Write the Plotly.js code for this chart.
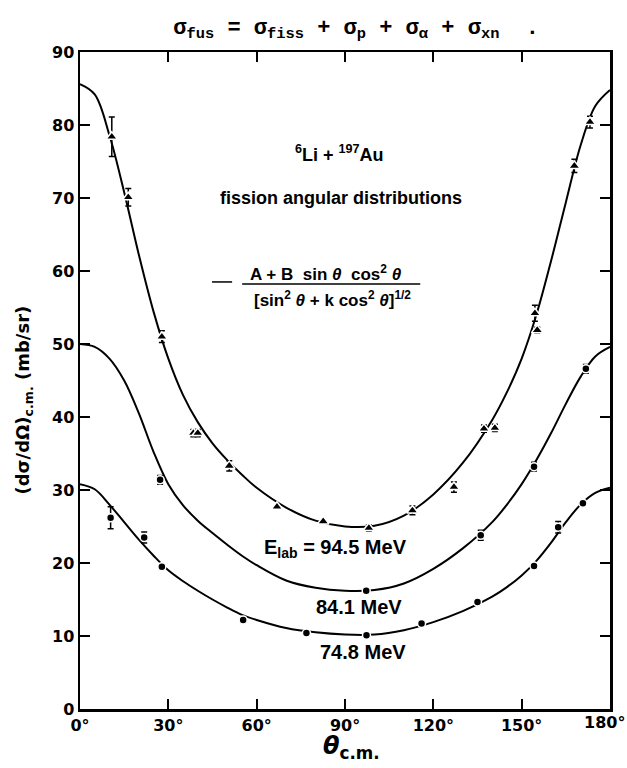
<!DOCTYPE html>
<html>
<head>
<meta charset="utf-8">
<script src="https://cdn.plot.ly/plotly-3.0.1.min.js"></script>
<style>html,body{margin:0;padding:0;background:#fff;}#chart{width:627px;height:768px;}</style>
</head>
<body>
<div id="chart"></div>
<script>
// ---- data ----
const tickAngles = [0, 30, 60, 90, 120, 150, 180];
const tickAngleLabels = ["0°", "30°", "60°", "90°", "120°", "150°", "180°"];

// measured points, 94.5 MeV (triangles)
const theta94 = [10.8, 16.4, 27.8, 38.5, 40.0, 50.7, 66.9, 82.6, 98.1, 112.9, 127.0, 137.2, 140.9, 154.5, 155.3, 167.9, 173.2];
const y94     = [78.4, 70.1, 51.0, 37.8, 37.8, 33.3, 27.7, 25.7, 24.8, 27.2, 30.4, 38.4, 38.5, 54.2, 51.9, 74.4, 80.4];
const err94   = [2.7, 1.2, 0.8, 0.5, 0.5, 0.7, 0, 0, 0.4, 0.6, 0.7, 0.5, 0.5, 1.1, 0.4, 0.9, 0.8];

// measured points, 84.1 MeV
const theta84 = [27.2, 97.2, 136.1, 154.2, 171.8];
const y84     = [31.4, 16.2, 23.8, 33.2, 46.6];
const err84   = [0.6, 0, 0.7, 0.6, 0.6];

// measured points, 74.8 MeV
const theta75 = [10.4, 21.8, 27.8, 55.4, 76.9, 97.3, 116.0, 135.0, 154.2, 162.4, 170.8];
const y75     = [26.2, 23.5, 19.5, 12.2, 10.4, 10.1, 11.7, 14.65, 19.6, 24.9, 28.2];
const err75   = [1.5, 0.75, 0, 0, 0, 0, 0, 0, 0, 0.8, 0];

// fitted curves
const curveAngles = [0, 5, 10, 15, 20, 25, 30, 35, 40, 45, 50, 55, 60, 70, 80, 90, 100, 110, 120, 130, 140, 145, 150, 155, 160, 165, 170, 175, 180];
const curve94 = [85.6, 84.2, 78.6, 70.8, 62.2, 54.4, 48.0, 43.0, 39.3, 36.4, 34.1, 32.1, 30.3, 27.6, 25.8, 25.0, 25.1, 26.5, 29.4, 33.7, 39.6, 43.4, 48.0, 54.0, 61.4, 69.4, 77.2, 82.6, 84.8];
const curve84 = [50.0, 49.6, 48.0, 45.0, 40.5, 35.2, 30.8, 27.9, 25.8, 24.1, 22.5, 21.0, 19.7, 17.6, 16.6, 16.2, 16.3, 17.2, 19.2, 22.0, 25.6, 28.0, 30.8, 34.1, 37.8, 41.8, 45.5, 48.3, 49.6];
const curve75 = [30.8, 30.1, 28.0, 25.6, 23.2, 21.0, 19.0, 17.5, 16.2, 15.0, 13.9, 12.9, 12.2, 11.1, 10.5, 10.2, 10.2, 10.8, 11.9, 13.4, 15.4, 16.7, 18.3, 20.3, 22.8, 25.6, 28.0, 29.6, 30.3];

// ---- traces ----
function curve(y) {
  return {x: curveAngles, y: y, mode: 'lines', type: 'scatter',
          line: {color: '#000', width: 2, shape: 'spline', smoothing: 1}, hoverinfo: 'skip'};
}
function pts(x, y, e, sym, size) {
  return {x: x, y: y, mode: 'markers', type: 'scatter',
          marker: {symbol: sym, size: size, color: '#000', line: {color: '#fff', width: 1.5}},
          error_y: {type: 'data', array: e, visible: true, color: '#000', thickness: 1.5, width: 3}};
}
const data = [
  curve(curve94), curve(curve84), curve(curve75),
  pts(theta94, y94, err94, 'triangle-up', 10),
  pts(theta84, y84, err84, 'circle', 8),
  pts(theta75, y75, err75, 'circle', 8)
];

// the last tick label sits against the right edge, so it is drawn as an annotation
const lastIdx = tickAngles.length - 1;
const shownTickText = tickAngleLabels.map((t, i) => i === lastIdx ? '' : t);

const tickFont = {family: 'DejaVu Sans', size: 16, color: '#000', weight: 'bold'};
const axisCommon = {showgrid: false, zeroline: false, showline: true, linecolor: '#000', linewidth: 2.5,
                    mirror: 'ticks', ticks: 'inside', ticklen: 10, tickwidth: 2, tickcolor: '#000',
                    tickfont: tickFont};
const txt = (t, x, y, size, fam, extra) => Object.assign({text: t, x: x, y: y, xref: 'paper', yref: 'paper',
   showarrow: false, xanchor: 'center', yanchor: 'middle',
   font: {family: fam || 'Liberation Sans', size: size, color: '#000', weight: 'bold'}}, extra || {});

const layout = {
  width: 627, height: 768,
  margin: {l: 80, r: 17, t: 52, b: 59},
  paper_bgcolor: '#fff', plot_bgcolor: '#fff',
  showlegend: false,
  title: {text: 'σ<sub>fus</sub> = σ<sub>fiss</sub> + σ<sub>p</sub> + σ<sub>α</sub> + σ<sub>xn</sub>  .',
          x: 0.568, xref: 'container', xanchor: 'center', y: 0.966, yref: 'container', yanchor: 'middle',
          font: {family: 'Liberation Mono', size: 22, color: '#000', weight: 'bold'}},
  xaxis: Object.assign({}, axisCommon, {range: [0, 180], tickvals: tickAngles, ticktext: shownTickText}),
  yaxis: Object.assign({}, axisCommon, {range: [0, 90], dtick: 10, tick0: 0}),
  annotations: [
    {text: tickAngleLabels[lastIdx], x: tickAngles[lastIdx], xref: 'x', y: 0, yref: 'paper', yshift: -13,
     showarrow: false, xanchor: 'right', xshift: 17, yanchor: 'middle',
     font: tickFont},
    txt('<sup>6</sup>Li + <sup>197</sup>Au', 0.49, 0.845, 18),
    txt('fission angular distributions', 0.492, 0.778, 18),
    txt('A + B  sin <i>θ</i>  cos<sup>2</sup> <i>θ</i>', 0.464, 0.664, 17),
    txt('[sin<sup>2</sup> <i>θ</i> + k cos<sup>2</sup> <i>θ</i>]<sup>1/2</sup>', 0.476, 0.624, 17),
    txt('E<sub>lab</sub> = 94.5 MeV', 0.483, 0.245, 20),
    txt('84.1 MeV', 0.527, 0.155, 20),
    txt('74.8 MeV', 0.534, 0.087, 20),
    txt('(dσ/dΩ)<sub>c.m.</sub> (mb/sr)', -0.105, 0.47, 18, 'DejaVu Sans', {textangle: -90}),
    txt('<i>θ</i><sub>c.m.</sub>', 0.513, -0.058, 24, 'DejaVu Sans')
  ],
  shapes: [
    {type: 'line', xref: 'paper', yref: 'paper', x0: 0.306, x1: 0.642, y0: 0.647, y1: 0.647, line: {color: '#000', width: 1.5}},
    {type: 'line', xref: 'paper', yref: 'paper', x0: 0.249, x1: 0.287, y0: 0.65, y1: 0.65, line: {color: '#000', width: 1.5}}
  ]
};

Plotly.newPlot('chart', data, layout, {staticPlot: true, displayModeBar: false});
</script>
</body>
</html>
